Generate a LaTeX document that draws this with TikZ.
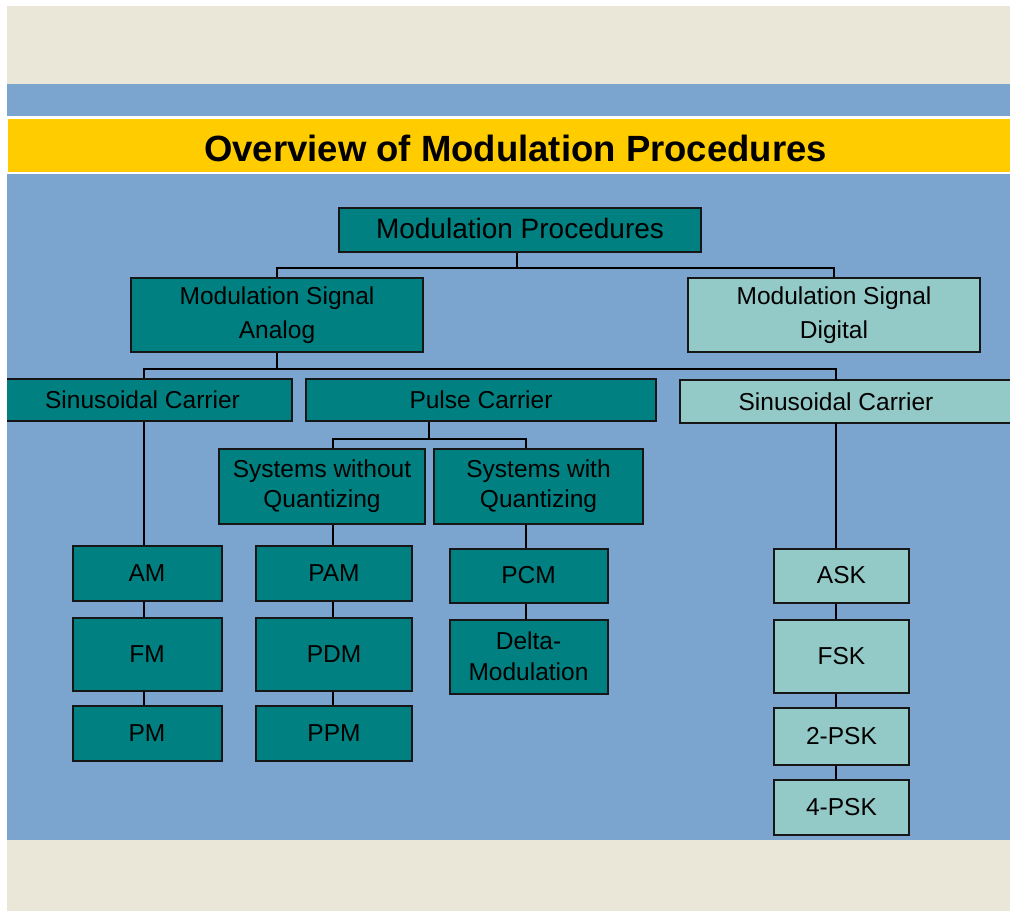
\documentclass[tikz,border=0pt]{standalone}
\usepackage{fontspec}
\setmainfont{Liberation Sans}
\definecolor{beigebg}{RGB}{235,231,216}
\definecolor{bluebg}{RGB}{123,165,207}
\definecolor{titleyellow}{RGB}{255,204,0}
\definecolor{tealdark}{RGB}{0,128,128}
\definecolor{teallight}{RGB}{147,201,198}
\definecolor{boxline}{RGB}{22,22,22}
\begin{document}
\begin{tikzpicture}[x=1pt,y=-1pt,
  box/.style={draw=boxline, line width=2pt, fill=tealdark, inner sep=0pt, align=center,
    font=\fontsize{24.5}{32}\selectfont},
  lbox/.style={box, fill=teallight},
  conn/.style={draw=black, line width=1.8pt},
  bigtext/.style={font=\fontsize{24.5}{34}\selectfont},
  systext/.style={font=\fontsize{24.5}{30}\selectfont}]
\useasboundingbox (0,0) rectangle (1010,913);
\fill[white] (0,0) rectangle (1010,913);
\fill[beigebg] (7,6) rectangle (1010,84);
\fill[bluebg] (7,84) rectangle (1010,116);
\fill[titleyellow] (8,119) rectangle (1010,172);
\fill[bluebg] (7,174) rectangle (1010,840);
\fill[beigebg] (7,840) rectangle (1010,911);
\node[font=\bfseries\fontsize{36.5}{40}\selectfont] (title) at (515.5,148) {Overview of Modulation Procedures};

\begin{scope}
\clip (7,174) rectangle (1010,840);
% column coordinates
\coordinate (cA) at (144,0);
\coordinate (cB) at (333,0);
\coordinate (cC) at (526,0);
\coordinate (cD) at (836,0);
\coordinate (cP) at (429,0);
\coordinate (cM) at (517,0);

\node[box, font=\fontsize{28}{32}\selectfont, minimum width=362pt, minimum height=44pt, text depth=2pt] (mp) at (520,229.5) {Modulation Procedures};
\node[box, bigtext, minimum width=292pt, minimum height=74pt] (msa) at (277,315) {Modulation Signal\\Analog};
\node[lbox, bigtext, minimum width=292pt, minimum height=74pt] (msd) at (834,315) {Modulation Signal\\Digital};

\node[box, minimum width=299pt, minimum height=42pt] (scl) at (142.5,400) {Sinusoidal Carrier};
\node[box, minimum width=350pt, minimum height=42pt] (pc) at (481,400) {Pulse Carrier};
\path[draw=boxline, line width=2pt, fill=teallight] (680,380) rectangle (1030,423);
\node[inner sep=0pt, font=\fontsize{24.5}{32}\selectfont, minimum width=312pt, minimum height=43pt] (scr) at (836,401.5) {Sinusoidal Carrier};

\node[box, systext, minimum width=206pt, minimum height=75pt] (swoq) at (322,486.5) {Systems without\\Quantizing};
\node[box, systext, minimum width=209pt, minimum height=75pt] (swq) at (538.5,486.5) {Systems with\\Quantizing};

\node[box, minimum width=149pt, minimum height=55pt] (am) at (147,573.5) {AM};
\node[box, minimum width=149pt, minimum height=73pt] (fm) at (147,654) {FM};
\node[box, minimum width=149pt, minimum height=55pt] (pm) at (147,733) {PM};

\node[box, minimum width=156pt, minimum height=55pt] (pam) at (334,573.5) {PAM};
\node[box, minimum width=156pt, minimum height=73pt] (pdm) at (334,654) {PDM};
\node[box, minimum width=156pt, minimum height=55pt] (ppm) at (334,733) {PPM};

\node[box, minimum width=158pt, minimum height=54pt] (pcm) at (528.5,575.5) {PCM};
\node[box, font=\fontsize{24.5}{31}\selectfont, minimum width=158pt, minimum height=74pt] (dm) at (528.5,656.5) {Delta-\\Modulation};

\node[lbox, minimum width=135pt, minimum height=54pt] (ask) at (841.5,575.5) {ASK};
\node[lbox, minimum width=135pt, minimum height=73pt] (fsk) at (841.5,656.5) {FSK};
\node[lbox, minimum width=135pt, minimum height=57pt] (psk2) at (841.5,736) {2-PSK};
\node[lbox, minimum width=135pt, minimum height=55pt] (psk4) at (841.5,807) {4-PSK};

% level 1 bus
\coordinate (bus1) at (517,268);
\draw[conn] (mp.south -| cM) -- (bus1);
\draw[conn] (msa.north) |- (bus1) -| (msd.north);
% level 2 bus
\coordinate (bus2) at (277,369);
\draw[conn] (msa.south) -- (bus2);
\draw[conn] (scl.north -| cA) |- (bus2) -| (scr.north);
% pulse carrier bus
\coordinate (bus3) at (429,439);
\draw[conn] (pc.south -| cP) -- (bus3);
\draw[conn] (swoq.north -| cB) |- (bus3) -| (swq.north -| cC);
% columns
\draw[conn] (scl.south -| cA) -- (am.north -| cA);
\draw[conn] (am.south -| cA) -- (fm.north -| cA);
\draw[conn] (fm.south -| cA) -- (pm.north -| cA);
\draw[conn] (swoq.south -| cB) -- (pam.north -| cB);
\draw[conn] (pam.south -| cB) -- (pdm.north -| cB);
\draw[conn] (pdm.south -| cB) -- (ppm.north -| cB);
\draw[conn] (swq.south -| cC) -- (pcm.north -| cC);
\draw[conn] (pcm.south -| cC) -- (dm.north -| cC);
\draw[conn] (scr.south -| cD) -- (ask.north -| cD);
\draw[conn] (ask.south -| cD) -- (fsk.north -| cD);
\draw[conn] (fsk.south -| cD) -- (psk2.north -| cD);
\draw[conn] (psk2.south -| cD) -- (psk4.north -| cD);
\end{scope}
\end{tikzpicture}
\end{document}
